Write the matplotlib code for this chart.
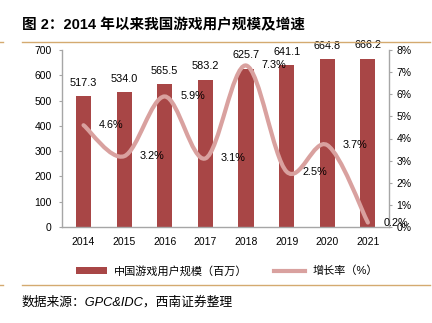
import matplotlib
matplotlib.use("Agg")
import matplotlib.pyplot as plt
from matplotlib.path import Path
from matplotlib.patches import PathPatch, Patch
from matplotlib.lines import Line2D
from matplotlib.ticker import FuncFormatter
import numpy as np

plt.rcParams['font.family'] = ['Liberation Sans', 'Noto Sans CJK SC']

years = ['2014', '2015', '2016', '2017', '2018', '2019', '2020', '2021']
users = [517.3, 534.0, 565.5, 583.2, 625.7, 641.1, 664.8, 666.2]
growth = [4.6, 3.2, 5.9, 3.1, 7.3, 2.5, 3.7, 0.2]

bar_color = '#A84646'
line_color = '#D9A19F'
gold = '#D4AA70'
spine_gray = '#A6A6A6'


def smooth_path(xs, ys):
    # Catmull-Rom style bezier segments, like a "smoothed line" chart
    pts = np.column_stack([xs, ys]).astype(float)
    n = len(pts)
    verts = [pts[0]]
    codes = [Path.MOVETO]
    for i in range(n - 1):
        p0 = pts[i - 1] if i > 0 else pts[i]
        p1 = pts[i]
        p2 = pts[i + 1]
        p3 = pts[i + 2] if i + 2 < n else pts[i + 1]
        c1 = p1 + (p2 - p0) / 6.0
        c2 = p2 - (p3 - p1) / 6.0
        verts += [c1, c2, p2]
        codes += [Path.CURVE4] * 3
    return Path(verts, codes)


fig = plt.figure(figsize=(4.32, 3.23), dpi=100)
ax = fig.add_axes([62 / 432, 96 / 323, 327 / 432, 177 / 323])
x = np.arange(len(years))

bars = ax.bar(x, users, width=0.37, color=bar_color, zorder=2)
ax.set_ylim(0, 700)
ax.set_xlim(-0.53, 7.52)
ax.set_yticks(range(0, 701, 100))
ax.set_xticks(x)
ax.set_xticklabels(years)
ax.tick_params(axis='x', length=0, labelsize=7.5, pad=7)
ax.tick_params(axis='y', direction='out', length=2.5, width=0.8,
               colors=spine_gray, labelcolor='black', labelsize=7.5, pad=5)
for s in ['left', 'bottom']:
    ax.spines[s].set_color(spine_gray)
    ax.spines[s].set_linewidth(1.0)
for s in ['top', 'right']:
    ax.spines[s].set_visible(False)

for xi, v in zip(x, users):
    ax.annotate(f'{v:.1f}', (xi, v), xytext=(0, 6), textcoords='offset points',
                ha='center', va='bottom', fontsize=7.8)

ax2 = ax.twinx()
ax2.set_ylim(0, 8)
ax2.set_yticks(range(0, 9))
ax2.yaxis.set_major_formatter(FuncFormatter(lambda v, p: f'{v:.0f}%'))
ax2.tick_params(axis='y', direction='out', length=2.5, width=0.8,
                colors=spine_gray, labelcolor='black', labelsize=7.5, pad=3)
for s in ['left', 'top', 'bottom']:
    ax2.spines[s].set_visible(False)
ax2.spines['right'].set_color(spine_gray)
ax2.spines['right'].set_linewidth(1.0)

curve = PathPatch(smooth_path(x, growth), facecolor='none', edgecolor=line_color,
                  linewidth=3.0, capstyle='round', zorder=3)
ax2.add_patch(curve)

for xi, g in zip(x, growth):
    ax2.annotate(f'{g:.1f}%', (xi, g), xytext=(20, 0), textcoords='offset points',
                 ha='center', va='center', fontsize=7.8)

handles = [Patch(facecolor=bar_color, edgecolor='none'),
           Line2D([], [], color=line_color, linewidth=3)]
fig.legend(handles, ['中国游戏用户规模（百万）', '增长率（%）'],
           loc='center', bbox_to_anchor=(227 / 432, 1 - 271 / 323), ncol=2,
           frameon=False, fontsize=8, handlelength=2.8, handleheight=0.5,
           columnspacing=2.4, handletextpad=0.6)

# title and decorative rules
fig.text(22 / 432, 1 - 25 / 323, '图 2：2014 年以来我国游戏用户规模及增速',
         fontsize=10.5, fontweight='bold', va='center', ha='left')
fig.add_artist(Line2D([22 / 432, 430 / 432], [1 - 42 / 323] * 2, color=gold, linewidth=1.0))
fig.add_artist(Line2D([22 / 432, 430 / 432], [1 - 285 / 323] * 2, color=gold, linewidth=1.0))
fig.add_artist(Line2D([0, 3 / 432], [1 - 42 / 323] * 2, color=gold, linewidth=1.0))
fig.add_artist(Line2D([0, 3 / 432], [1 - 285 / 323] * 2, color=gold, linewidth=1.0))
fig.text(22 / 432, 1 - 302 / 323, '数据来源：GPC&IDC，西南证券整理',
         fontsize=9.2, style='italic', va='center', ha='left')

fig.savefig('out.png', dpi=100)
